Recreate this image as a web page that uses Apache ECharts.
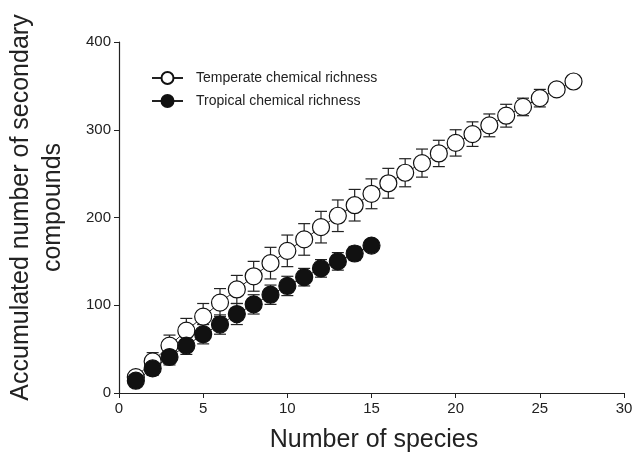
<!DOCTYPE html>
<html><head><meta charset="utf-8">
<script src="https://cdn.jsdelivr.net/npm/echarts@6/dist/echarts.min.js"></script>
<style>html,body{margin:0;padding:0;background:#fff}#c{width:633px;height:454px}</style>
</head><body><div id="c"></div>
<script>
var species = [1,2,3,4,5,6,7,8,9,10,11,12,13,14,15,16,17,18,19,20,21,22,23,24,25,26,27];
var temperate = [18,36,54,71,87,103,118,133,148,162,175,189,202,214,227,239,251,262,273,285,295,305,316,326,336,346,355];
var temperateErr = [4,10,12,14,15,16,16,17,18,18,18,18,18,18,17,17,16,16,15,15,14,13,13,10,10,5,0];
var tropical = [14,28,41,54,67,78,90,101,112,122,132,142,150,159,168];
var tropicalErr = [4,8,9,10,11,11,12,11,11,11,10,10,10,8,0];
var xTicks = [0,5,10,15,20,25,30];
var yTicks = [0,100,200,300,400];

function pairs(xs, ys){ return ys.map(function(v,i){return [xs[i], v];}); }
function errData(xs, ys, es){ return ys.map(function(v,i){return [xs[i], v-es[i], v+es[i]];}); }
function errItem(params, api){
  var x = api.value(0), lo = api.value(1), hi = api.value(2);
  var pLo = api.coord([x, lo]), pHi = api.coord([x, hi]);
  var w = 6;
  var st = {stroke:'#222', lineWidth:1.2};
  return {type:'group', children:[
    {type:'line', shape:{x1:pLo[0],y1:pLo[1],x2:pHi[0],y2:pHi[1]}, style:st},
    {type:'line', shape:{x1:pLo[0]-w,y1:pLo[1],x2:pLo[0]+w,y2:pLo[1]}, style:st},
    {type:'line', shape:{x1:pHi[0]-w,y1:pHi[1],x2:pHi[0]+w,y2:pHi[1]}, style:st}
  ]};
}

var chart = echarts.init(document.getElementById('c'));
var font = 'Liberation Sans, Arial, sans-serif';
chart.setOption({
  animation:false,
  textStyle:{fontFamily:font},
  grid:{left:119, right:9, top:42, bottom:61, containLabel:false, outerBoundsMode:'none'},
  legend:{
    left:146, top:66, orient:'vertical', itemGap:9, itemWidth:31, itemHeight:15,
    data:['Temperate chemical richness','Tropical chemical richness'],
    textStyle:{fontFamily:font, fontSize:14, color:'#222', padding:[0,0,0,8]}
  },
  xAxis:{
    type:'value', min:0, max:30, interval:5,
    name:'Number of species', nameLocation:'middle', nameGap:35,
    nameTextStyle:{fontSize:25, color:'#222', fontFamily:font, padding:[0,0,0,5]},
    axisLine:{lineStyle:{color:'#222', width:1.2}},
    axisTick:{show:true, length:5, lineStyle:{color:'#222'}},
    axisLabel:{fontSize:15, color:'#222', margin:8},
    splitLine:{show:false}
  },
  yAxis:{
    type:'value', min:0, max:400, interval:100,
    name:'Accumulated number of secondary\ncompounds', nameLocation:'middle', nameGap:50,
    nameTextStyle:{fontSize:25, color:'#222', fontFamily:font, lineHeight:32, padding:[0,0,0,20]},
    axisLine:{show:true, lineStyle:{color:'#222', width:1.2}},
    axisTick:{show:true, length:5, lineStyle:{color:'#222'}},
    axisLabel:{fontSize:15, color:'#222', margin:8},
    splitLine:{show:false}
  },
  series:[
    {type:'custom', renderItem:errItem, data:errData(species, temperate, temperateErr), z:1, silent:true},
    {type:'custom', renderItem:errItem, data:errData(species, tropical, tropicalErr), z:1, silent:true},
    {name:'Temperate chemical richness', type:'line', data:pairs(species, temperate), z:3,
     symbol:'circle', symbolSize:17, showAllSymbol:true,
     lineStyle:{color:'#222', width:1},
     itemStyle:{color:'#fff', borderColor:'#111', borderWidth:1.2}},
    {name:'Tropical chemical richness', type:'line', data:pairs(species, tropical), z:4,
     symbol:'circle', symbolSize:17, showAllSymbol:true,
     lineStyle:{color:'#222', width:1},
     itemStyle:{color:'#111', borderColor:'#111', borderWidth:1.2}}
  ]
});
</script></body></html>
